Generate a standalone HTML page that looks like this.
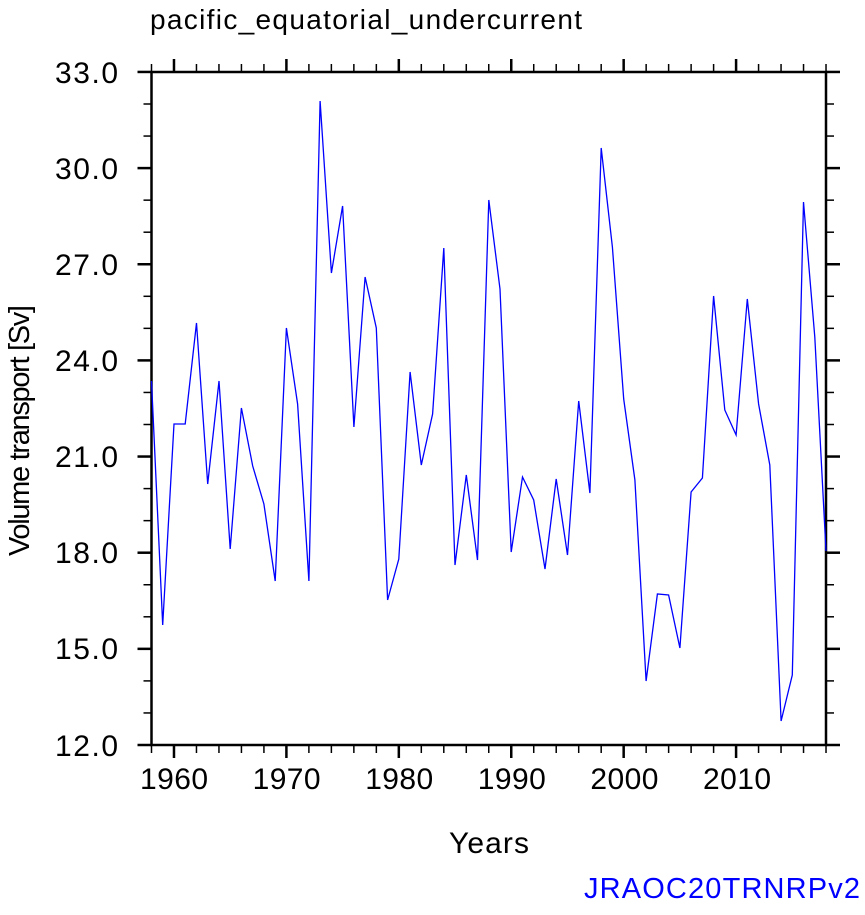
<!DOCTYPE html>
<html><head><style>body{margin:0;background:#fff}</style></head><body>
<svg width="865" height="910" xmlns="http://www.w3.org/2000/svg" font-family="Liberation Sans, sans-serif">
<rect width="865" height="910" fill="#fff"/>
<g id="ticks" stroke="#000"></g>
<rect x="151.5" y="72" width="674.5" height="673" fill="none" stroke="#000" stroke-width="2.5"/>
<polyline id="ln" fill="none" stroke="#0000ff" stroke-width="1.3" points=""/>
<g font-size="30" text-anchor="end">
<text x="118" y="83" textLength="63">33.0</text><text x="118" y="179" textLength="63">30.0</text><text x="118" y="275" textLength="63">27.0</text><text x="118" y="371" textLength="63">24.0</text><text x="118" y="467" textLength="63">21.0</text><text x="118" y="563" textLength="63">18.0</text><text x="118" y="659" textLength="63">15.0</text><text x="118" y="756" textLength="63">12.0</text>
</g>
<g font-size="30">
<text x="140" y="789" textLength="68">1960</text><text x="252.6" y="789" textLength="68">1970</text><text x="365.2" y="789" textLength="68">1980</text><text x="477.8" y="789" textLength="68">1990</text><text x="590.4" y="789" textLength="68">2000</text><text x="703" y="789" textLength="68">2010</text>
<text x="449" y="853" textLength="80">Years</text>
</g>
<text transform="translate(29,556) rotate(-90)" font-size="29" textLength="251">Volume transport [Sv]</text>
<text x="150" y="29" font-size="28" textLength="432">pacific_equatorial_undercurrent</text>
<text x="584" y="898" font-size="29" fill="#0000ff" textLength="276">JRAOC20TRNRPv2</text>
</svg>
<script>
var ys=[381,625,424,424,323,484,381,549,408,466,504,581,328,404,581,101,273,206,427,277,328,600,559,372,465,414,248,565,475,560,200,289,552,477,500,569,479,555,401,493,148,247,399,480,681,594,595,648,492,478,296,410,435,299,404,465,721,675,202,337,551];
var p=ys.map(function(y,i){return (151.5+i*11.242).toFixed(1)+","+y}).join(" ");
document.getElementById("ln").setAttribute("points",p);
var g=document.getElementById("ticks"),s="";
for(var yr=1958;yr<=2018;yr+=2){var x=151.5+(yr-1958)*11.242;var L=(yr%10==0)?13:8;
s+='<line x1="'+x+'" x2="'+x+'" y1="745" y2="'+(745+L)+'" stroke-width="'+(L>10?2.5:1.5)+'"/>';
s+='<line x1="'+x+'" x2="'+x+'" y1="72" y2="'+(72-L)+'" stroke-width="'+(L>10?2.5:1.5)+'"/>';}
for(var v=12;v<=33;v++){var y=745-(v-12)*32.05;var L=(v%3==0)?14:8;
s+='<line x1="151.5" x2="'+(151.5-L)+'" y1="'+y+'" y2="'+y+'" stroke-width="'+(L>10?2.5:1.5)+'"/>';
s+='<line x1="826" x2="'+(826+L)+'" y1="'+y+'" y2="'+y+'" stroke-width="'+(L>10?2.5:1.5)+'"/>';}
g.innerHTML=s;
</script>
</body></html>
